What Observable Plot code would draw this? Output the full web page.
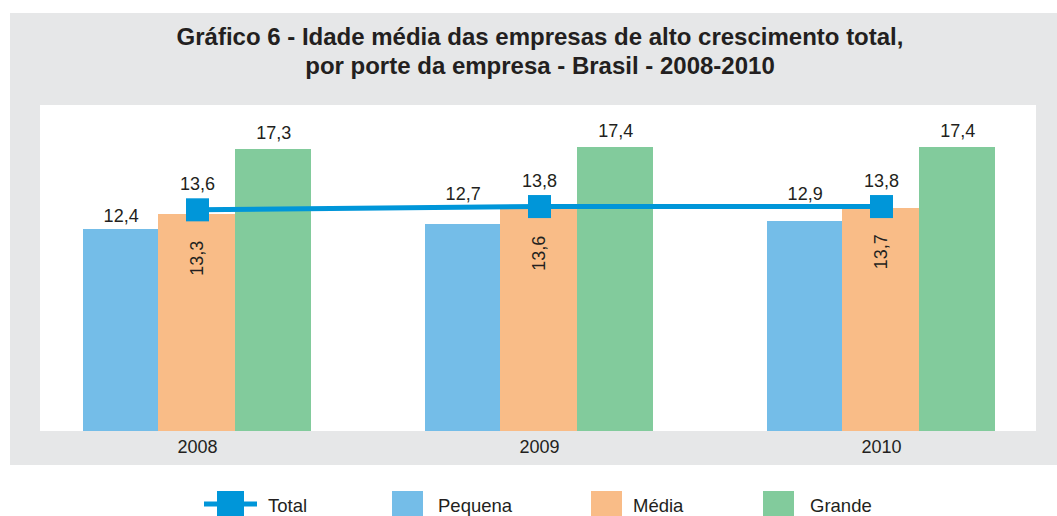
<!DOCTYPE html>
<html>
<head>
<meta charset="utf-8">
<script src="https://cdn.jsdelivr.net/npm/d3@7"></script>
<script src="https://cdn.jsdelivr.net/npm/@observablehq/plot@0.6"></script>
<style>
  body { margin: 0; background: #fff; }
  #wrap { position: relative; width: 1057px; height: 516px; overflow: hidden;
          font-family: "Liberation Sans", Arial, sans-serif; color: #231f20; }
  #bg { position: absolute; left: 10px; top: 13px; width: 1047px; height: 452px; background: #e6e7e8; }
  #panel { position: absolute; left: 40px; top: 105px; width: 996px; height: 326px; background: #fff; }
  #title { position: absolute; left: 40px; top: 22px; width: 1000px; text-align: center;
           font-weight: bold; font-size: 24px; line-height: 29px; color: #231f20; }
  #chart { position: absolute; left: 0; top: 105px; }
  #legend { position: absolute; left: 0; top: 480px; }
</style>
</head>
<body>
<div id="wrap">
  <div id="bg"></div>
  <div id="panel"></div>
  <div id="title">Gráfico 6 - Idade média das empresas de alto crescimento total,<br>por porte da empresa - Brasil - 2008-2010</div>
  <div id="chart"></div>
  <div id="legend"></div>
</div>
<script>
// ---- data ----
const years = ["2008", "2009", "2010"];
const seriesNames = ["Pequena", "Média", "Grande"];
const pequena = [12.4, 12.7, 12.9];
const media = [13.3, 13.6, 13.7];
const grande = [17.3, 17.4, 17.4];
const total = [13.6, 13.8, 13.8];
const totalName = "Total";
const seriesColors = ["#74bde8", "#f9bc87", "#82cb9c"];
const totalColor = "#0096d9";
const textColor = "#231f20";

const fmt = v => v.toFixed(1).replace(".", ",");
const seriesValues = [pequena, media, grande];
const rows = seriesValues.flatMap((vals, k) =>
  vals.map((v, i) => ({year: years[i], serie: seriesNames[k], k, i, value: v})));
const totalRows = total.map((v, i) => ({year: years[i], value: v, i}));

// ---- layout ----
const W = 1057, H = 360, mL = 82, mR = 60, mB = 34;
const pad = 0.332;
const step = (W - mL - mR) / (years.length - pad);
const bw = step * (1 - pad) / seriesNames.length;
const font = "Liberation Sans, Arial, sans-serif";
const n = seriesNames.length;

const bars = seriesNames.map((s, k) =>
  Plot.barY(rows.filter(d => d.k === k), {
    x: "year", y: "value", fill: "serie", shapeRendering: "crispEdges",
    insetLeft: k === 0 ? 0 : k * bw - 1,
    insetRight: k === n - 1 ? 0 : (n - 1 - k) * bw - 1
  }));

const lblStyle = {fontSize: 18, fill: textColor};

const chart = Plot.plot({
  width: W, height: H,
  marginTop: 0, marginBottom: mB, marginLeft: mL, marginRight: mR,
  x: {domain: years, type: "band", paddingInner: pad, paddingOuter: 0, axis: null},
  y: {domain: [0, 20], axis: null},
  color: {domain: seriesNames, range: seriesColors},
  style: {background: "transparent", fontFamily: font, color: textColor, overflow: "visible"},
  marks: [
    ...bars,
    // Pequena labels (lifted above the Total line where it crosses the bar)
    Plot.text(rows.filter(d => d.k === 0), {
      x: "year", y: d => d.i === 0 ? d.value : Math.max(d.value, total[d.i]),
      text: d => fmt(d.value), dx: -bw, dy: -7, lineAnchor: "bottom", ...lblStyle
    }),
    // Média labels, rotated inside the bar
    Plot.text(rows.filter(d => d.k === 1), {
      x: "year", y: "value", text: d => fmt(d.value),
      rotate: -90, textAnchor: "end", lineAnchor: "middle", dy: 26, ...lblStyle
    }),
    // Grande labels
    Plot.text(rows.filter(d => d.k === 2), {
      x: "year", y: "value", text: d => fmt(d.value),
      dx: bw, dy: -11, lineAnchor: "bottom", ...lblStyle
    }),
    // Total line + markers
    Plot.line(totalRows, {x: "year", y: "value", stroke: totalColor, strokeWidth: 5}),
    Plot.dot(totalRows, {x: "year", y: "value", symbol: "square", r: 13, fill: totalColor, stroke: "none"}),
    Plot.text(totalRows, {
      x: "year", y: "value", text: d => fmt(d.value),
      dy: -20, lineAnchor: "bottom", ...lblStyle
    }),
    // year labels
    Plot.text(years, {x: d => d, frameAnchor: "bottom", lineAnchor: "middle", dy: 16, fontSize: 18, fill: textColor})
  ]
});
document.getElementById("chart").appendChild(chart);

// ---- legend ----
const lg = d3.select("#legend").append("svg")
  .attr("width", W).attr("height", 36)
  .style("font-family", font).style("font-size", "18.5px").style("fill", textColor);
lg.append("line").attr("x1", 204).attr("x2", 257).attr("y1", 24).attr("y2", 24)
  .attr("stroke", totalColor).attr("stroke-width", 5);
lg.append("rect").attr("x", 217).attr("y", 11).attr("width", 27).attr("height", 27).attr("fill", totalColor);
lg.append("text").attr("x", 268).attr("y", 32).text(totalName);
const swX = [392, 591, 763], txX = [438, 633, 810];
seriesNames.forEach((s, k) => {
  lg.append("rect").attr("x", swX[k]).attr("y", 11).attr("width", 31).attr("height", 27).attr("fill", seriesColors[k]);
  lg.append("text").attr("x", txX[k]).attr("y", 32).text(s);
});
</script>
</body>
</html>
